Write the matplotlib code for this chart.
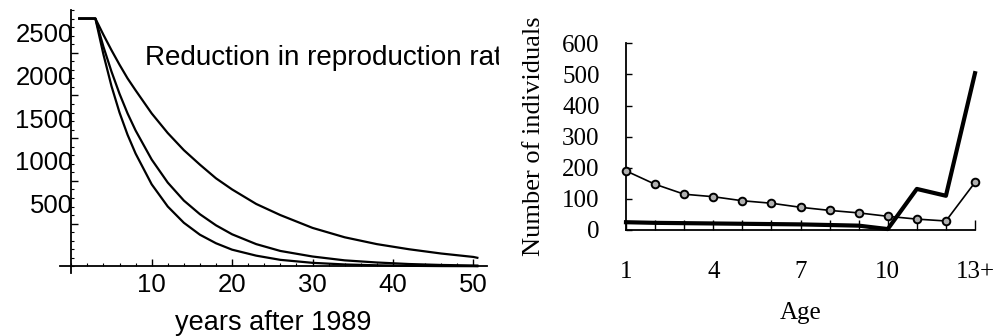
import matplotlib
matplotlib.use('Agg')
import matplotlib.pyplot as plt
from matplotlib import transforms as mtransforms
from matplotlib.ticker import MultipleLocator, FixedLocator

# Left panel: population projections (three reproduction-rate scenarios)
years = [1, 3, 4, 5, 6, 7, 8, 10, 12, 14, 16, 18, 20, 23, 26, 30, 34, 38, 42, 46, 50, 50.5]
slow = [2900, 2900, 2710, 2530, 2360, 2200, 2060, 1790, 1560, 1360, 1190, 1030,
        900, 730, 600, 450, 340, 260, 200, 150, 110, 100]
medium = [2900, 2900, 2570, 2280, 2020, 1790, 1590, 1250, 980, 770, 610, 480,
          375, 260, 180, 115, 70, 45, 27, 16, 10, 9]
fast = [2900, 2900, 2480, 2110, 1800, 1540, 1320, 960, 700, 510, 370, 270,
        195, 125, 76, 41, 22, 12, 6, 3, 2, 1]
left_yticks = [500, 1000, 1500, 2000, 2500]
left_xticks = [10, 20, 30, 40, 50]

# Right panel: age structure
ages = list(range(1, 14))
age_ticks = [1, 4, 7, 10, 13]
age_labels = ['1', '4', '7', '10', '13+']
observed = [190, 147, 115, 107, 94, 86, 73, 63, 55, 44, 35, 29, 153]
model = [25, 23, 22, 21, 20, 19, 18, 16, 14, 3, 132, 110, 504]
right_yticks = [0, 100, 200, 300, 400, 500, 600]

W, H = 996, 336
fig = plt.figure(figsize=(W / 100, H / 100), dpi=100)

sans = 'Liberation Sans'
serif = 'Liberation Serif'

# ---- left panel ----
ax1 = fig.add_axes([60 / W, (H - 273) / H, 427 / W, 263 / H])
ax1.set_xlim(-1.4, 51.7)
ax1.set_ylim(-78, 3000)
for c in (slow, medium, fast):
    ax1.plot(years, c, color='black', lw=1.6, solid_joinstyle='round')

for s in ('top', 'right'):
    ax1.spines[s].set_visible(False)
ax1.spines['left'].set_position(('data', 0))
ax1.spines['bottom'].set_position(('data', 0))
ax1.spines['left'].set_linewidth(1.3)
ax1.spines['bottom'].set_linewidth(1.3)

ax1.xaxis.set_major_locator(FixedLocator(left_xticks))
ax1.xaxis.set_minor_locator(MultipleLocator(2))
ax1.yaxis.set_major_locator(FixedLocator(left_yticks))
ax1.yaxis.set_minor_locator(MultipleLocator(100))
ax1.tick_params(which='major', direction='in', length=5, width=1)
ax1.tick_params(which='minor', direction='in', length=2.5, width=0.8)
ax1.tick_params(axis='x', which='major', pad=5, labelsize=18.5)
ax1.tick_params(axis='y', which='major', pad=-1, labelsize=18.5)
for lab in ax1.get_xticklabels() + ax1.get_yticklabels():
    lab.set_fontfamily(sans)
# tick labels sit a bit above their ticks in the original
shift = mtransforms.ScaledTranslation(0, 0.2, fig.dpi_scale_trans)
for lab in ax1.get_yticklabels():
    lab.set_transform(lab.get_transform() + shift)

ax1.set_xlabel('years after 1989', fontsize=19.5, fontfamily=sans, labelpad=9)

txt = fig.text(145 / W, (H - 65) / H, 'Reduction in reproduction rate',
               fontsize=20.1, fontfamily=sans, va='baseline', ha='left')
clip = mtransforms.TransformedBbox(
    mtransforms.Bbox([[0, 0], [499 / W, 1]]), fig.transFigure)
txt.set_clip_box(clip)
txt.set_clip_on(True)

# ---- right panel ----
ax2 = fig.add_axes([626 / W, (H - 230) / H, 349 / W, 186.7 / H])
ax2.set_xlim(1, 13)
ax2.set_ylim(0, 600)
ax2.plot(ages, model, color='black', lw=3, clip_on=False, zorder=3)
ax2.plot(ages, observed, color='black', lw=1.2, marker='o', ms=5.5,
         mfc='#b0b0b0', mec='black', mew=1.4, clip_on=False, zorder=4)

for s in ('top', 'right'):
    ax2.spines[s].set_visible(False)
ax2.spines['left'].set_linewidth(1.3)
ax2.spines['bottom'].set_linewidth(1.3)

ax2.set_xticks(ages, minor=True)
ax2.set_xticks(age_ticks)
ax2.set_xticklabels(age_labels, fontfamily=serif, fontsize=18)
ax2.set_yticks(right_yticks)
ax2.set_yticklabels([str(v) for v in right_yticks], fontfamily=serif, fontsize=18)
ax2.tick_params(axis='x', which='both', direction='in', length=7, width=1, pad=22)
ax2.tick_params(axis='y', direction='in', length=4, width=1, pad=19)

ax2.set_xlabel('Age', fontsize=18, fontfamily=serif, labelpad=14)
ax2.set_ylabel('Number of individuals', fontsize=19, fontfamily=serif, labelpad=12)

fig.savefig('out.png', dpi=100)
